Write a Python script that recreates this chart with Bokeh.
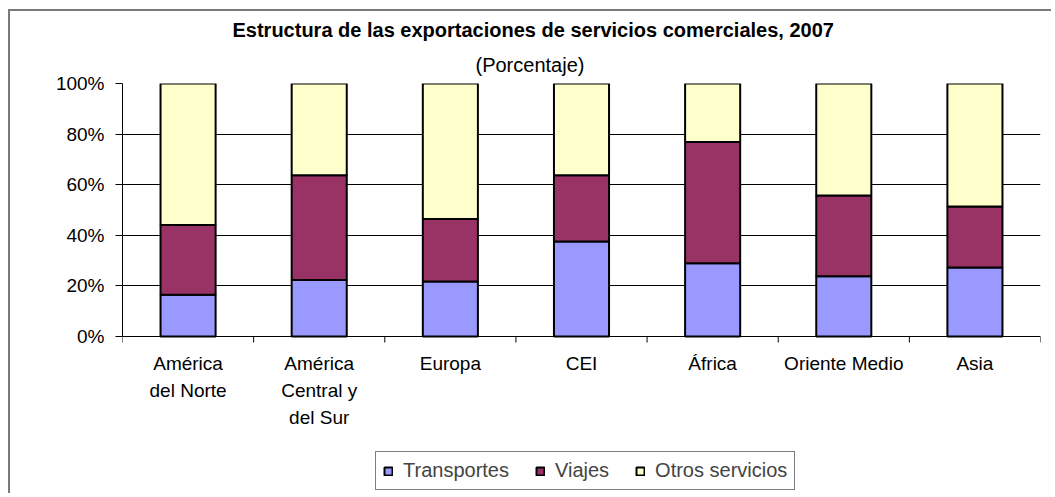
from bokeh.plotting import figure
from bokeh.models import (Range1d, FixedTicker, PrintfTickFormatter,
                          Legend, LegendItem, Title, ColumnDataSource)
from bokeh.core.properties import value
from bokeh.embed import file_html
from bokeh.resources import INLINE

regions = ["América del Norte", "América Central y del Sur", "Europa", "CEI", "África",
           "Oriente Medio", "Asia"]
region_labels = ["América\ndel Norte", "América\nCentral y\ndel Sur", "Europa", "CEI", "África",
                 "Oriente Medio", "Asia"]
transportes = [16.5, 22.3, 21.7, 37.5, 28.9, 23.8, 27.3]
viajes = [27.6, 41.4, 24.7, 26.2, 48.0, 31.9, 24.1]
otros = [55.9, 36.3, 53.6, 36.3, 23.1, 44.3, 48.6]
series = ["Transportes", "Viajes", "Otros servicios"]
colors = ["#9999FF", "#993366", "#FFFFCC"]
y_ticks = [0, 20, 40, 60, 80, 100]
title_text = "Estructura de las exportaciones de servicios comerciales, 2007"
subtitle_text = "(Porcentaje)"

FONT = "Liberation Sans"

idx = list(range(len(regions)))
bticks = [i - 0.5 for i in range(len(regions) + 1)]
source = ColumnDataSource(data=dict(x=idx, region=regions, label=region_labels,
                                    Transportes=transportes, Viajes=viajes,
                                    **{"Otros servicios": otros}))
tick_src = ColumnDataSource(data=dict(x=bticks))

# the frame is extended below 0 so the category labels and the legend sit inside it
Y_BOTTOM = -61.7
p = figure(x_range=Range1d(-0.5, len(regions) - 0.5), y_range=Range1d(Y_BOTTOM, 100),
           width=1043, height=484, output_backend="svg", toolbar_location=None,
           x_axis_location=None,
           min_border_left=112, min_border_right=13, min_border_top=72, min_border_bottom=3)
p.styles = {"margin-left": "8px", "margin-top": "9px",
            "border-left": "2px solid #7a7a7a", "border-top": "2px solid #7a7a7a"}
p.outline_line_color = None
p.background_fill_color = "white"
p.border_fill_color = "white"

# grids (the 0 line acts as the category axis line)
p.xgrid.visible = False
p.ygrid.ticker = FixedTicker(ticks=y_ticks)
p.ygrid.grid_line_color = "black"
p.ygrid.grid_line_width = 1

# y axis
ya = p.yaxis[0]
ya.ticker = FixedTicker(ticks=y_ticks)
ya.bounds = (0, 100)
ya.formatter = PrintfTickFormatter(format="%d%%")
ya.major_label_text_font = FONT
ya.major_label_text_font_size = "19px"
ya.major_label_text_color = "black"
ya.major_tick_in = 0
ya.major_tick_out = 7
ya.minor_tick_line_color = None
ya.axis_line_color = "black"
ya.major_tick_line_color = "black"
ya.major_label_standoff = 11

# tick marks between categories
p.segment(x0="x", y0=0, x1="x", y1=-2.4, source=tick_src, line_color="black", line_width=1)

# category labels
p.text(x="x", y=0, text="label", source=source, text_align="center", text_baseline="top",
       y_offset=17, text_font=value(FONT), text_font_size="19px", text_color="black",
       text_line_height=1.27)

renderers = p.vbar_stack(series, x="x", width=0.42, color=colors,
                         line_color="black", line_width=2, source=source)

legend = Legend(items=[LegendItem(label=s, renderers=[r]) for s, r in zip(series, renderers)],
                orientation="horizontal", location=(253, 2),
                label_text_font=FONT, label_text_font_size="20px",
                glyph_width=10, glyph_height=10, label_standoff=10, spacing=26,
                padding=7, margin=0, border_line_color="black", border_line_width=1,
                background_fill_color="white", background_fill_alpha=1)
p.add_layout(legend)

sub = Title(text=subtitle_text, align="left", offset=353, text_font=FONT,
            text_font_size="20px", text_font_style="normal", text_color="black", standoff=15)
ttl = Title(text=title_text, align="left", offset=110, text_font=FONT,
            text_font_size="20px", text_font_style="bold", text_color="black", standoff=7)
p.add_layout(sub, "above")
p.add_layout(ttl, "above")
p.above = [sub, ttl]

open("out.html", "w").write(file_html(p, INLINE))
